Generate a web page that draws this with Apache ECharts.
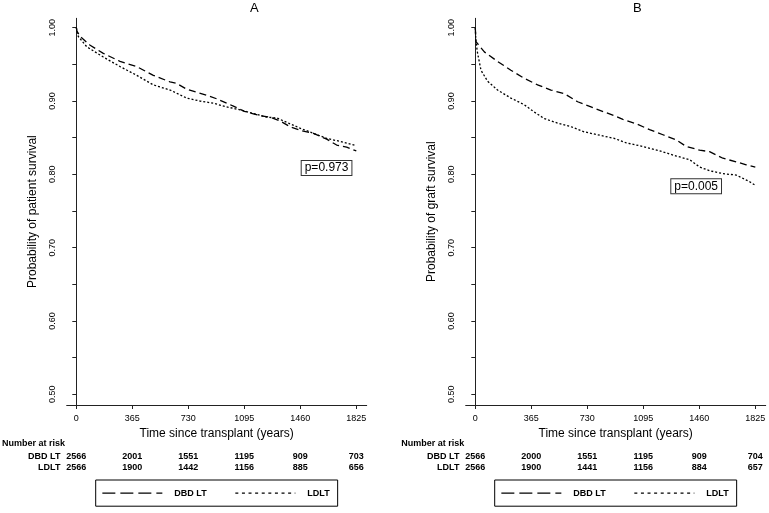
<!DOCTYPE html>
<html>
<head>
<meta charset="utf-8">
<script src="https://cdn.jsdelivr.net/npm/echarts@6/dist/echarts.min.js"></script>
<style>
html,body{margin:0;padding:0;background:#fff;}
#chart{width:769px;height:513px;}
</style>
</head>
<body>
<div id="chart"></div>
<script>
// ---- Data ----
var xTicks = [0, 365, 730, 1095, 1460, 1825];
var yTickValues = [0.50, 0.55, 0.60, 0.65, 0.70, 0.75, 0.80, 0.85, 0.90, 0.95, 1.00];
var yLabelValues = [0.50, 0.60, 0.70, 0.80, 0.90, 1.00];

// Panel A: patient survival
var aDbdTime = [0,5,25,90,176,285,394,502,611,654,720,784,850,915,1024,1095,1197,1262,1327,1393,1460,1545,1632,1697,1762,1825];
var aDbdSurv = [1.000,0.995,0.988,0.976,0.965,0.954,0.947,0.935,0.926,0.924,0.916,0.912,0.908,0.903,0.893,0.886,0.880,0.878,0.873,0.865,0.860,0.856,0.848,0.840,0.837,0.832];
var aLdltTime = [0,13,68,176,285,394,502,611,720,806,893,980,1067,1154,1241,1306,1371,1458,1545,1632,1719,1825];
var aLdltSurv = [1.000,0.988,0.974,0.960,0.947,0.935,0.922,0.915,0.904,0.900,0.897,0.892,0.888,0.883,0.878,0.877,0.871,0.863,0.856,0.849,0.845,0.839];

// Panel B: graft survival
var bDbdTime = [0,4,59,145,232,319,406,493,580,667,754,841,906,962,1049,1136,1223,1310,1375,1462,1527,1614,1701,1766,1825];
var bDbdSurv = [1.000,0.981,0.967,0.954,0.942,0.931,0.922,0.915,0.910,0.899,0.892,0.885,0.880,0.875,0.869,0.861,0.854,0.847,0.838,0.833,0.831,0.822,0.817,0.813,0.810];
var bLdltTime = [0,4,15,37,80,145,232,319,384,450,536,623,710,797,906,984,1093,1202,1310,1397,1462,1527,1614,1701,1788,1825];
var bLdltSurv = [1.000,0.981,0.965,0.942,0.927,0.915,0.904,0.895,0.885,0.876,0.870,0.865,0.858,0.854,0.849,0.843,0.838,0.832,0.825,0.820,0.810,0.805,0.801,0.799,0.790,0.785];

// Numbers at risk
var aRiskDbd = [2566, 2001, 1551, 1195, 909, 703];
var aRiskLdlt = [2566, 1900, 1442, 1156, 885, 656];
var bRiskDbd = [2566, 2000, 1551, 1195, 909, 704];
var bRiskLdlt = [2566, 1900, 1441, 1156, 884, 657];

var seriesNames = ['DBD LT', 'LDLT'];
var panelTitles = ['A', 'B'];
var yNames = ['Probability of patient survival', 'Probability of graft survival'];
var pTexts = ['p=0.973', 'p=0.005'];
var xName = 'Time since transplant (years)';
var riskHeader = 'Number at risk';

// ---- Build ----
var FONT = '"Liberation Sans", Arial, Helvetica, sans-serif';
var XMIN = -62.6, XMAX = 1892.8, YMIN = 0.4855, YMAX = 1.0128;

function pairs(t, v) { return t.map(function (x, i) { return [x, v[i]]; }); }

var gridLefts = [66.7, 465.7];
var grids = gridLefts.map(function (l) {
  return { left: l, top: 18.3, width: 300, height: 386.7, containLabel: false };
});

function mainX(gi) {
  return {
    type: 'value', gridIndex: gi, min: XMIN, max: XMAX,
    axisLine: { show: true, lineStyle: { color: '#222', width: 1 } },
    axisTick: { show: true, length: 4, customValues: xTicks, lineStyle: { color: '#222' } },
    axisLabel: {
      customValues: xTicks, margin: 9, fontSize: 9, color: '#000', fontFamily: FONT,
      formatter: function (v) { return String(Math.round(v)); }
    },
    splitLine: { show: false },
    name: xName, nameLocation: 'middle', nameGap: 18,
    nameTextStyle: { fontSize: 12, color: '#000', fontFamily: FONT }
  };
}
function riskX(gi, label, vals, offset) {
  return {
    type: 'value', gridIndex: gi, min: XMIN, max: XMAX, position: 'bottom', offset: offset,
    axisLine: { show: false }, axisTick: { show: false }, splitLine: { show: false },
    axisLabel: {
      customValues: xTicks, margin: 0, verticalAlign: 'middle',
      fontSize: 9, fontWeight: 'bold', color: '#000', fontFamily: FONT,
      formatter: function (v) { var i = xTicks.indexOf(Math.round(v)); return i >= 0 ? String(vals[i]) : ''; }
    },
    name: label, nameLocation: 'start', nameGap: 3,
    nameTextStyle: { fontSize: 9, fontWeight: 'bold', color: '#000', fontFamily: FONT }
  };
}
function mainY(gi, name) {
  return {
    type: 'value', gridIndex: gi, min: YMIN, max: YMAX,
    axisLine: { show: true, lineStyle: { color: '#222', width: 1 } },
    axisTick: { show: true, length: 4, customValues: yTickValues, lineStyle: { color: '#222' } },
    axisLabel: {
      customValues: yLabelValues, rotate: 90, margin: 10, fontSize: 9, color: '#000', fontFamily: FONT,
      formatter: function (v) { return v.toFixed(2); }
    },
    splitLine: { show: false },
    name: name, nameLocation: 'middle', nameGap: 28,
    nameTextStyle: { fontSize: 12, color: '#000', fontFamily: FONT }
  };
}

var dashStyle = { color: '#000', width: 1.3, type: [7, 4] };
var dotStyle = { color: '#000', width: 1.3, type: [2, 2] };

function curve(name, data, xi, yi, ls) {
  return {
    type: 'line', name: name, data: data, xAxisIndex: xi, yAxisIndex: yi,
    symbol: 'none', showSymbol: false, lineStyle: ls, itemStyle: { color: '#000' },
    silent: true, animation: false, clip: false
  };
}

function legendFor(left) {
  return {
    left: left, top: 480, orient: 'horizontal',
    borderColor: '#000', borderWidth: 1, padding: [7.5, 8, 7.5, 6],
    itemWidth: 60, itemHeight: 14, itemGap: 28,
    selectedMode: false,
    itemStyle: { color: 'rgba(0,0,0,0)', borderWidth: 0 },
    textStyle: { fontSize: 9, fontWeight: 'bold', color: '#000', fontFamily: FONT, padding: [0, 0, 0, 7] },
    data: [
      { name: seriesNames[0], lineStyle: { color: '#000', width: 1.3, type: [13, 5] }, itemStyle: { color: 'rgba(0,0,0,0)', borderWidth: 0 } },
      { name: seriesNames[1], lineStyle: { color: '#000', width: 1.3, type: [3, 3.6] }, itemStyle: { color: 'rgba(0,0,0,0)', borderWidth: 0 } }
    ]
  };
}

function pBox(x, y, txt) {
  return {
    type: 'text', x: x, y: y, silent: true,
    style: {
      text: txt, font: '12px ' + FONT, fill: '#000',
      backgroundColor: '#fff', borderColor: '#333', borderWidth: 1, padding: [1, 3, 1, 3]
    }
  };
}
function plain(x, y, txt, font) {
  return { type: 'text', x: x, y: y, silent: true, style: { text: txt, font: font, fill: '#000' } };
}

var option = {
  backgroundColor: '#fff',
  animation: false,
  title: [
    { text: panelTitles[0], left: 250, top: 2, padding: 0, textStyle: { fontSize: 13, fontWeight: 'normal', color: '#000', fontFamily: FONT } },
    { text: panelTitles[1], left: 633, top: 2, padding: 0, textStyle: { fontSize: 13, fontWeight: 'normal', color: '#000', fontFamily: FONT } }
  ],
  grid: grids,
  xAxis: [
    mainX(0),
    riskX(0, seriesNames[0], aRiskDbd, 51.7),
    riskX(0, seriesNames[1], aRiskLdlt, 62.3),
    mainX(1),
    riskX(1, seriesNames[0], bRiskDbd, 51.7),
    riskX(1, seriesNames[1], bRiskLdlt, 62.3)
  ],
  yAxis: [mainY(0, yNames[0]), mainY(1, yNames[1])],
  legend: [legendFor(95.7), legendFor(494.7)],
  series: [
    curve(seriesNames[0], pairs(aDbdTime, aDbdSurv), 0, 0, dashStyle),
    curve(seriesNames[1], pairs(aLdltTime, aLdltSurv), 0, 0, dotStyle),
    curve(seriesNames[0], pairs(bDbdTime, bDbdSurv), 3, 1, dashStyle),
    curve(seriesNames[1], pairs(bLdltTime, bLdltSurv), 3, 1, dotStyle)
  ],
  graphic: [
    pBox(301.7, 161, pTexts[0]),
    pBox(671.3, 179.3, pTexts[1]),
    plain(2, 439.5, riskHeader, 'bold 9px ' + FONT),
    plain(401.3, 439.5, riskHeader, 'bold 9px ' + FONT)
  ]
};

var chart = echarts.init(document.getElementById('chart'), null, { renderer: 'canvas' });
chart.setOption(option);
</script>
</body>
</html>
